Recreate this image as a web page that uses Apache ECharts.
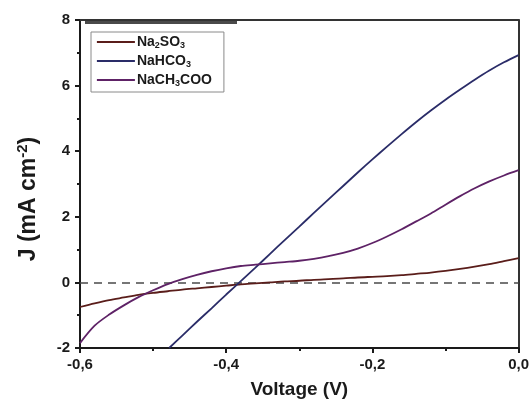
<!DOCTYPE html>
<html>
<head>
<meta charset="utf-8">
<script src="https://cdn.jsdelivr.net/npm/echarts@6/dist/echarts.min.js"></script>
<style>html,body{margin:0;padding:0;background:#fff;}#c{width:532px;height:408px;}</style>
</head>
<body>
<div id="c"></div>
<script>
// ---- data ----
const seriesNames = ['Na2SO3', 'NaHCO3', 'NaCH3COO'];
const xTicks = ['-0,6', '-0,4', '-0,2', '0,0'];
const yTicks = ['-2', '0', '2', '4', '6', '8'];

const vNa2SO3 = [-0.60,-0.58,-0.56,-0.54,-0.52,-0.50,-0.48,-0.46,-0.44,-0.42,-0.40,-0.38,-0.36,-0.34,-0.32,-0.30,-0.28,-0.26,-0.24,-0.22,-0.20,-0.18,-0.16,-0.14,-0.12,-0.10,-0.08,-0.06,-0.04,-0.02,0.00];
const jNa2SO3 = [-0.75,-0.64,-0.54,-0.46,-0.38,-0.32,-0.27,-0.22,-0.18,-0.14,-0.10,-0.06,-0.03,0.00,0.03,0.05,0.08,0.10,0.12,0.15,0.17,0.19,0.22,0.26,0.30,0.35,0.41,0.48,0.56,0.65,0.74];

const vNaHCO3 = [-0.478,-0.46,-0.44,-0.42,-0.40,-0.38,-0.36,-0.34,-0.32,-0.30,-0.28,-0.26,-0.24,-0.22,-0.20,-0.18,-0.16,-0.14,-0.12,-0.10,-0.08,-0.06,-0.04,-0.02,0.00];
const jNaHCO3 = [-2.00,-1.62,-1.20,-0.79,-0.37,0.04,0.45,0.87,1.29,1.70,2.12,2.53,2.94,3.35,3.75,4.14,4.52,4.89,5.24,5.57,5.88,6.18,6.46,6.71,6.93];

const vNaCH3COO = [-0.60,-0.58,-0.56,-0.54,-0.52,-0.50,-0.48,-0.46,-0.44,-0.42,-0.40,-0.38,-0.36,-0.34,-0.32,-0.30,-0.28,-0.26,-0.24,-0.22,-0.20,-0.18,-0.16,-0.14,-0.12,-0.10,-0.08,-0.06,-0.04,-0.02,0.00];
const jNaCH3COO = [-1.85,-1.32,-0.98,-0.70,-0.45,-0.24,-0.05,0.10,0.23,0.34,0.43,0.50,0.54,0.58,0.62,0.66,0.72,0.80,0.90,1.03,1.20,1.40,1.62,1.86,2.10,2.37,2.63,2.87,3.08,3.26,3.42];

const colors = ['#5a1d1a', '#2a2c68', '#5e2266'];
const legendRich = {
  'Na2SO3': '{a|Na}{b|2}{a|SO}{b|3}',
  'NaHCO3': '{a|NaHCO}{b|3}',
  'NaCH3COO': '{a|NaCH}{b|3}{a|COO}'
};

function pairs(v, j) { return v.map((x, i) => [x, j[i]]); }

const FONT = '"Liberation Sans", Arial, sans-serif';
const chart = echarts.init(document.getElementById('c'), null, {renderer: 'canvas'});

const lineSeries = (name, v, j, idx, extra) => Object.assign({
  name: name,
  type: 'line',
  data: pairs(v, j),
  showSymbol: false,
  symbol: 'none',
  smooth: 0.3,
  color: colors[idx],
  lineStyle: {width: 1.8, color: colors[idx]},
  z: 3
}, extra || {});

const option = {
  animation: false,
  backgroundColor: '#fff',
  grid: {left: 80, right: 11, top: 20, bottom: 60},
  legend: {
    orient: 'vertical',
    left: 91,
    top: 32,
    data: seriesNames,
    itemWidth: 38,
    itemHeight: 14,
    itemGap: 4,
    padding: [3, 12, 4, 5],
    borderColor: '#8a8a8a',
    borderWidth: 1,
    backgroundColor: '#fff',
    itemStyle: {opacity: 0},
    lineStyle: {width: 1.8},
    formatter: n => legendRich[n],
    textStyle: {
      padding: [0, 0, 0, -3],
      rich: {
        a: {fontFamily: FONT, fontSize: 14, fontWeight: 'bold', color: '#1a1a1a', lineHeight: 16},
        b: {fontFamily: FONT, fontSize: 9, fontWeight: 'bold', color: '#1a1a1a', verticalAlign: 'bottom', lineHeight: 12, padding: [3, 0, 0, 0]}
      }
    }
  },
  xAxis: [{
    type: 'value',
    min: -0.6, max: 0, interval: 0.2,
    position: 'bottom',
    axisLine: {show: true, onZero: false, lineStyle: {color: '#1a1a1a', width: 2}},
    axisTick: {show: true, inside: false, length: 5, lineStyle: {color: '#1a1a1a', width: 2}},
    minorTick: {show: true, splitNumber: 2, length: 3, lineStyle: {color: '#1a1a1a', width: 2}},
    splitLine: {show: false},
    axisLabel: {
      margin: 9,
      fontFamily: FONT, fontSize: 15, fontWeight: 'bold', color: '#1a1a1a',
      formatter: v => xTicks[Math.round((v + 0.6) / 0.2)]
    },
    name: 'Voltage (V)',
    nameLocation: 'middle',
    nameGap: 32,
    nameTextStyle: {fontFamily: FONT, fontSize: 19, fontWeight: 'bold', color: '#1a1a1a'}
  }, {
    type: 'value',
    min: -0.6, max: 0, interval: 0.2,
    position: 'top',
    axisLine: {show: true, onZero: false, lineStyle: {color: '#333', width: 2}},
    axisTick: {show: false},
    axisLabel: {show: false},
    splitLine: {show: false}
  }],
  yAxis: [{
    type: 'value',
    min: -2, max: 8, interval: 2,
    position: 'left',
    axisLine: {show: true, onZero: false, lineStyle: {color: '#1a1a1a', width: 2}},
    axisTick: {show: true, inside: false, length: 5, lineStyle: {color: '#1a1a1a', width: 2}},
    minorTick: {show: true, splitNumber: 2, length: 3, lineStyle: {color: '#1a1a1a', width: 2}},
    splitLine: {show: false},
    axisLabel: {
      margin: 10,
      fontFamily: FONT, fontSize: 15, fontWeight: 'bold', color: '#1a1a1a',
      formatter: v => yTicks[Math.round((v + 2) / 2)]
    },
    name: '{a|J (mA cm}{b|-2}{a|)}',
    nameLocation: 'middle',
    nameRotate: 90,
    nameGap: 38,
    nameTextStyle: {
      padding: [0, 30, 0, 0],
      rich: {
        a: {fontFamily: FONT, fontSize: 23, fontWeight: 'bold', color: '#1a1a1a', lineHeight: 27},
        b: {fontFamily: FONT, fontSize: 15, fontWeight: 'bold', color: '#1a1a1a', verticalAlign: 'top', lineHeight: 27, padding: [0, 0, 8, 0]}
      }
    }
  }, {
    type: 'value',
    min: -2, max: 8, interval: 2,
    position: 'right',
    axisLine: {show: true, onZero: false, lineStyle: {color: '#333', width: 2}},
    axisTick: {show: false},
    axisLabel: {show: false},
    splitLine: {show: false}
  }],
  series: [
    lineSeries(seriesNames[0], vNa2SO3, jNa2SO3, 0, {
      markLine: {
        silent: true,
        symbol: 'none',
        label: {show: false},
        lineStyle: {type: [8, 6], color: '#4a4a4a', width: 1.5},
        data: [{yAxis: 0}],
        z: 2
      }
    }),
    lineSeries(seriesNames[1], vNaHCO3, jNaHCO3, 1),
    lineSeries(seriesNames[2], vNaCH3COO, jNaCH3COO, 2)
  ],
  graphic: [{
    type: 'rect',
    left: 85, top: 21,
    shape: {width: 152, height: 3},
    style: {fill: '#4a4a4a'},
    z: 10
  }]
};
chart.setOption(option);
</script>
</body>
</html>
